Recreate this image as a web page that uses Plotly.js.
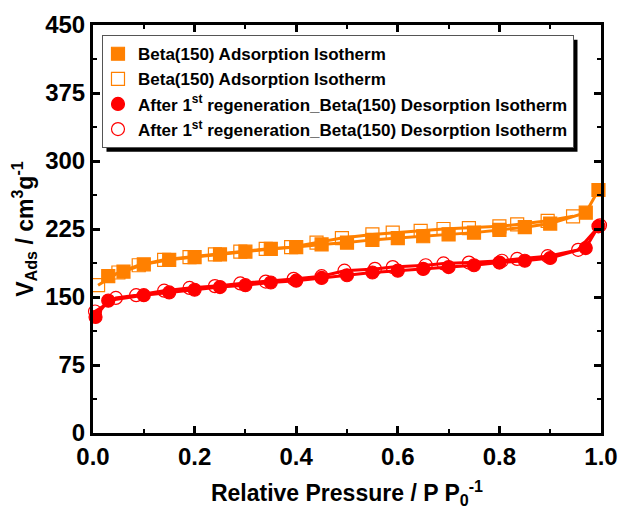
<!DOCTYPE html>
<html><head><meta charset="utf-8">
<script src="https://cdn.plot.ly/plotly-3.0.1.min.js"></script>
<style>body{margin:0;padding:0;background:#fff}#chart{width:624px;height:512px}</style>
</head><body><div id="chart"></div>
<script>
// Beta(150) adsorption (filled squares)
const adsX = [0.03,0.06,0.1,0.15,0.2,0.25,0.3,0.35,0.4,0.45,0.5,0.55,0.6,0.65,0.7,0.75,0.8,0.85,0.9,0.97,0.995];
const adsY = [173,178,186,191,194,197,200,203,205,208,210,213,215,217,219,221,224,227,231,243,268];
// Beta(150) (open squares)
const desX = [0.01,0.05,0.09,0.14,0.19,0.24,0.29,0.34,0.39,0.44,0.49,0.55,0.59,0.645,0.69,0.74,0.8,0.835,0.895,0.945];
const desY = [163,177,185,191,194,197,200,203,205,210,215,219,221,223,225,226,228,230,234,239];
// After 1st regeneration (filled circles)
const regAX = [0.005,0.03,0.1,0.15,0.2,0.25,0.3,0.35,0.4,0.45,0.5,0.55,0.6,0.65,0.7,0.75,0.8,0.85,0.9,0.97,0.995];
const regAY = [128,146,152,155,158,161,163,166,168,171,174,177,179,181,183,185,188,190,193,204,228];
// After 1st regeneration (open circles)
const regDX = [0.004,0.045,0.085,0.14,0.19,0.24,0.29,0.34,0.395,0.45,0.495,0.555,0.59,0.655,0.69,0.74,0.805,0.835,0.895,0.955,0.998];
const regDY = [134,149,152,157,160,162,165,167,170,173,179,181,183,185,187,188,190,192,195,202,229];

const names = [
  "Beta(150) Adsorption Isotherm",
  "Beta(150) Adsorption Isotherm",
  "After 1<sup>st</sup> regeneration_Beta(150) Desorption Isotherm",
  "After 1<sup>st</sup> regeneration_Beta(150) Desorption Isotherm"
];
const orange = "#FF8000", red = "#FF0000";

function dataTrace(x, y, color, symbol){
  return {x:x, y:y, type:"scatter", mode:"lines+markers", showlegend:false, cliponaxis:false,
    line:{color:color, width:3},
    marker:{color:color, symbol:symbol, size:13, line:{color:color, width:1.2}}};
}
function legTrace(name, color, symbol){
  return {x:[null], y:[null], type:"scatter", mode:"markers", name:name,
    marker:{color:color, symbol:symbol, size:13, line:{color:color, width:1.2}}};
}
const traces = [
  dataTrace(regDX, regDY, red, "circle-open"),
  dataTrace(regAX, regAY, red, "circle"),
  dataTrace(desX, desY, orange, "square-open"),
  dataTrace(adsX, adsY, orange, "square"),
  legTrace(names[0], orange, "square"),
  legTrace(names[1], orange, "square-open"),
  legTrace(names[2], red, "circle"),
  legTrace(names[3], red, "circle-open")
];

const fontFam = "Liberation Sans, Arial, sans-serif";
const axisCommon = {
  showline:true, linecolor:"#000", linewidth:3, mirror:"allticks",
  ticks:"inside", ticklen:7, tickwidth:3, tickcolor:"#000",
  showgrid:false, zeroline:false,
  tickfont:{family:fontFam, size:24, color:"#000", weight:"bold"}
};
const layout = {
  width:624, height:512,
  margin:{l:93, r:23, t:25, b:79},
  paper_bgcolor:"#fff", plot_bgcolor:"#fff",
  font:{family:fontFam, color:"#000"},
  xaxis:Object.assign({}, axisCommon, {
    range:[0,1], dtick:0.2, tick0:0, tickformat:".1f",
    minor:{dtick:0.1, ticks:"inside", ticklen:4, tickwidth:2, tickcolor:"#000"},
    title:{text:"<b>Relative Pressure / P P<sub>0</sub><sup>-1</sup></b>", font:{family:fontFam, size:23, color:"#000"}, standoff:17}
  }),
  yaxis:Object.assign({}, axisCommon, {
    range:[0,450], dtick:75, tick0:0,
    minor:{dtick:37.5, ticks:"inside", ticklen:4, tickwidth:2, tickcolor:"#000"},
    title:{text:"<b>V<sub>Ads</sub> / cm<sup>3</sup>g<sup>-1</sup></b>", font:{family:fontFam, size:23, color:"#000"}, standoff:6}
  }),
  legend:{x:0.0177, y:0.975, xanchor:"left", yanchor:"top",
    bgcolor:"#fff", bordercolor:"#555", borderwidth:1,
    font:{family:fontFam, size:17, color:"#000", weight:"bold"},
    tracegroupgap:0, itemwidth:30, indentation:-5}
};
Plotly.newPlot("chart", traces, layout, {displayModeBar:false, staticPlot:true}).then(function(gd){
  // drop shadow behind the legend box, placed from the legend's rendered box
  const bg = gd.querySelector("g.legend rect.bg");
  if(!bg) return;
  const r = bg.getBoundingClientRect(), d = gd.getBoundingClientRect();
  const fs = gd._fullLayout._size;
  const off = 4;
  const toX = function(px){ return (px - d.left - fs.l) / fs.w; };
  const toY = function(py){ return 1 - (py - d.top - fs.t) / fs.h; };
  return Plotly.relayout(gd, {shapes:[{type:"rect", xref:"paper", yref:"paper",
    x0:toX(r.left + off), x1:toX(r.right + off), y0:toY(r.bottom + off), y1:toY(r.top + off),
    fillcolor:"#000", line:{width:0}, layer:"above"}]});
});
</script></body></html>
